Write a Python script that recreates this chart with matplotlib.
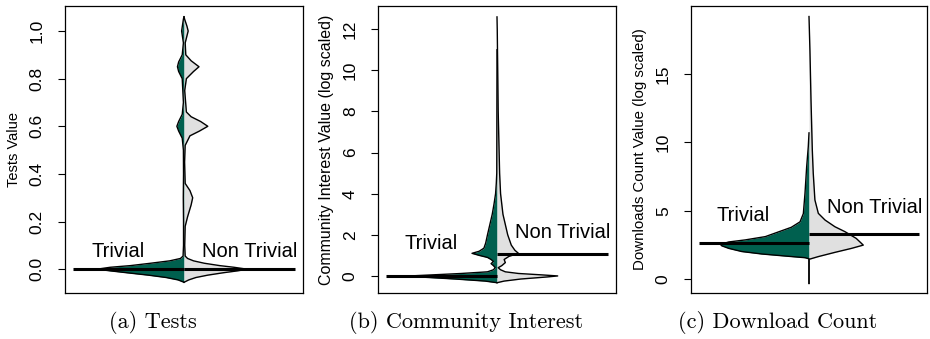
import matplotlib
matplotlib.use("Agg")
import matplotlib.pyplot as plt
import numpy as np

plt.rcParams['font.family'] = ['Liberation Sans', 'DejaVu Sans']

TEAL = '#00604f'
GREY = '#e0e0e0'

groups = ['Trivial', 'Non Trivial']

# (a) Tests: bean outline as (value, half width)
tests_y_triv = [-0.055, -0.045, -0.035, -0.025, -0.015, -0.007, 0.0, 0.008, 0.015, 0.025, 0.035,
                0.045, 0.055, 0.1, 0.2, 0.3, 0.4, 0.5, 0.55, 0.58, 0.6, 0.62, 0.65, 0.7, 0.8,
                0.83, 0.85, 0.87, 0.9, 0.95, 1.0, 1.05, 1.06]
tests_w_triv = [0.0, 0.05, 0.15, 0.3, 0.48, 0.62, 0.73, 0.62, 0.45, 0.28, 0.12,
                0.03, 0.008, 0.004, 0.004, 0.006, 0.004, 0.005, 0.015, 0.045, 0.06, 0.045, 0.015, 0.005, 0.015,
                0.045, 0.055, 0.045, 0.015, 0.005, 0.02, 0.005, 0.0]
tests_y_non = [-0.055, -0.045, -0.035, -0.025, -0.015, -0.007, 0.0, 0.008, 0.015, 0.025, 0.035,
               0.045, 0.055, 0.1, 0.18, 0.22, 0.27, 0.3, 0.33, 0.36, 0.45, 0.52, 0.56, 0.58, 0.6,
               0.62, 0.64, 0.66, 0.75, 0.8, 0.83, 0.85, 0.875, 0.9, 0.95, 0.98, 1.0, 1.02, 1.05, 1.06]
tests_w_non = [0.0, 0.04, 0.1, 0.2, 0.33, 0.45, 0.53, 0.42, 0.3, 0.17, 0.08,
               0.03, 0.01, 0.006, 0.01, 0.03, 0.06, 0.073, 0.05, 0.01, 0.005, 0.01, 0.05, 0.13, 0.2,
               0.14, 0.06, 0.02, 0.006, 0.02, 0.08, 0.126, 0.06, 0.015, 0.01, 0.025, 0.035, 0.025, 0.005, 0.0]
tests_med = [0.0, 0.0]

# (b) Community interest (log scaled)
comm_y_triv = [-0.33, -0.25, -0.15, -0.05, 0.0, 0.05, 0.12, 0.2, 0.3, 0.4, 0.5, 0.6, 0.7, 0.8,
               0.9, 1.0, 1.1, 1.2, 1.35, 1.6, 2.0, 2.5, 3.0, 3.5, 4.0, 4.5, 5.0, 11.0]
comm_w_triv = [0.0, 0.1, 0.35, 0.65, 0.73, 0.55, 0.3, 0.08, 0.03, 0.015, 0.03, 0.05, 0.03, 0.05,
               0.08, 0.15, 0.21, 0.15, 0.11, 0.095, 0.08, 0.06, 0.04, 0.025, 0.012, 0.006, 0.002, 0.0]
comm_y_non = [-0.33, -0.25, -0.15, -0.05, 0.0, 0.05, 0.12, 0.2, 0.3, 0.4, 0.5, 0.65, 0.8, 0.95,
              1.1, 1.25, 1.5, 2.0, 2.5, 3.0, 4.0, 5.0, 6.0, 8.0, 10.0, 12.0, 12.6]
comm_w_non = [0.0, 0.06, 0.2, 0.42, 0.51, 0.38, 0.18, 0.07, 0.03, 0.01, 0.04, 0.07, 0.06, 0.1,
              0.18, 0.15, 0.12, 0.09, 0.07, 0.05, 0.03, 0.022, 0.018, 0.01, 0.006, 0.002, 0.0]
comm_med = [0.0, 1.07]

# (c) Download count (log scaled)
down_y_triv = [-0.3, 1.5, 1.58, 1.7, 1.85, 2.03, 2.26, 2.45, 2.55, 2.73, 2.88, 3.12, 3.46, 3.8,
               4.2, 4.8, 6.28, 8.2, 9.7, 10.7]
down_w_triv = [0.0, 0.0, 0.034, 0.2, 0.4, 0.57, 0.68, 0.74, 0.75, 0.68, 0.54, 0.37, 0.26, 0.15,
               0.076, 0.048, 0.034, 0.02, 0.006, 0.0]
down_y_non = [-0.3, 1.46, 1.66, 1.97, 2.26, 2.5, 2.99, 3.48, 3.84, 4.33, 4.82, 5.8, 7.75, 9.45,
              13.1, 16.7, 19.2]
down_w_non = [0.0, 0.0, 0.079, 0.22, 0.36, 0.46, 0.40, 0.305, 0.22, 0.136, 0.079, 0.05, 0.036, 0.028,
              0.017, 0.008, 0.0]
down_med = [2.68, 3.31]

panels = [
    dict(yt=tests_y_triv, wt=tests_w_triv, yn=tests_y_non, wn=tests_w_non, med=tests_med,
         ylim=(-0.1, 1.105), ticks=[0, 0.2, 0.4, 0.6, 0.8, 1.0],
         ticklabels=['0.0', '0.2', '0.4', '0.6', '0.8', '1.0'],
         ylabel='Tests Value', ylsize=10.5, lab_y=(0.074, 0.074), caption='(a) Tests',
         rect=[65 / 930, 1 - 293 / 339, 238 / 930, 287 / 339], cx=153),
    dict(yt=comm_y_triv, wt=comm_w_triv, yn=comm_y_non, wn=comm_w_non, med=comm_med,
         ylim=(-0.83, 13.13), ticks=[0, 2, 4, 6, 8, 10, 12],
         ticklabels=['0', '2', '4', '6', '8', '10', '12'],
         ylabel='Community Interest Value (log scaled)', ylsize=11.5, lab_y=(1.57, 2.13),
         caption='(b) Community Interest',
         rect=[378 / 930, 1 - 293 / 339, 238 / 930, 287 / 339], cx=466),
    dict(yt=down_y_triv, wt=down_w_triv, yn=down_y_non, wn=down_w_non, med=down_med,
         ylim=(-1.0, 19.97), ticks=[0, 5, 10, 15],
         ticklabels=['0', '5', '10', '15'],
         ylabel='Downloads Count Value (log scaled)', ylsize=10.8, lab_y=(4.66, 5.24),
         caption='(c) Download Count',
         rect=[691 / 930, 1 - 293 / 339, 236 / 930, 287 / 339], cx=778),
]

fig = plt.figure(figsize=(9.3, 3.39), dpi=100)

for p in panels:
    ax = fig.add_axes(p['rect'])
    yt = np.array(p['yt'])
    wt = np.array(p['wt'])
    yn = np.array(p['yn'])
    wn = np.array(p['wn'])
    # left half trivial, right half non trivial
    ax.fill_betweenx(yt, 0, -wt, color=TEAL, lw=0, zorder=2)
    ax.fill_betweenx(yn, 0, wn, color=GREY, lw=0, zorder=2)
    ax.plot(-wt, yt, color='black', lw=1.0, zorder=3)
    ax.plot(wn, yn, color='black', lw=1.0, zorder=3)
    ax.plot([-0.93, 0], [p['med'][0]] * 2, color='black', lw=2.2, solid_capstyle='butt', zorder=4)
    ax.plot([0, 0.93], [p['med'][1]] * 2, color='black', lw=2.2, solid_capstyle='butt', zorder=4)
    ax.text(-0.555, p['lab_y'][0], groups[0], ha='center', va='center', fontsize=14.5)
    ax.text(0.555, p['lab_y'][1], groups[1], ha='center', va='center', fontsize=14.5)

    ax.set_xlim(-1, 1)
    ax.set_ylim(*p['ylim'])
    ax.set_xticks([])
    ax.set_yticks(p['ticks'])
    ax.set_yticklabels(p['ticklabels'], rotation=90, va='center')
    ax.tick_params(axis='y', length=5, width=0.8, pad=9.5, labelsize=12.5)
    for s in ax.spines.values():
        s.set_linewidth(0.9)
    ax.set_ylabel(p['ylabel'], fontsize=p['ylsize'])
    ax.yaxis.set_label_coords(-0.186, 0.5)

    fig.text(p['cx'] / 930, 1 - 323 / 339, p['caption'], family='cmr10',
             ha='center', va='center', fontsize=16)

fig.savefig('out.png', dpi=100)
